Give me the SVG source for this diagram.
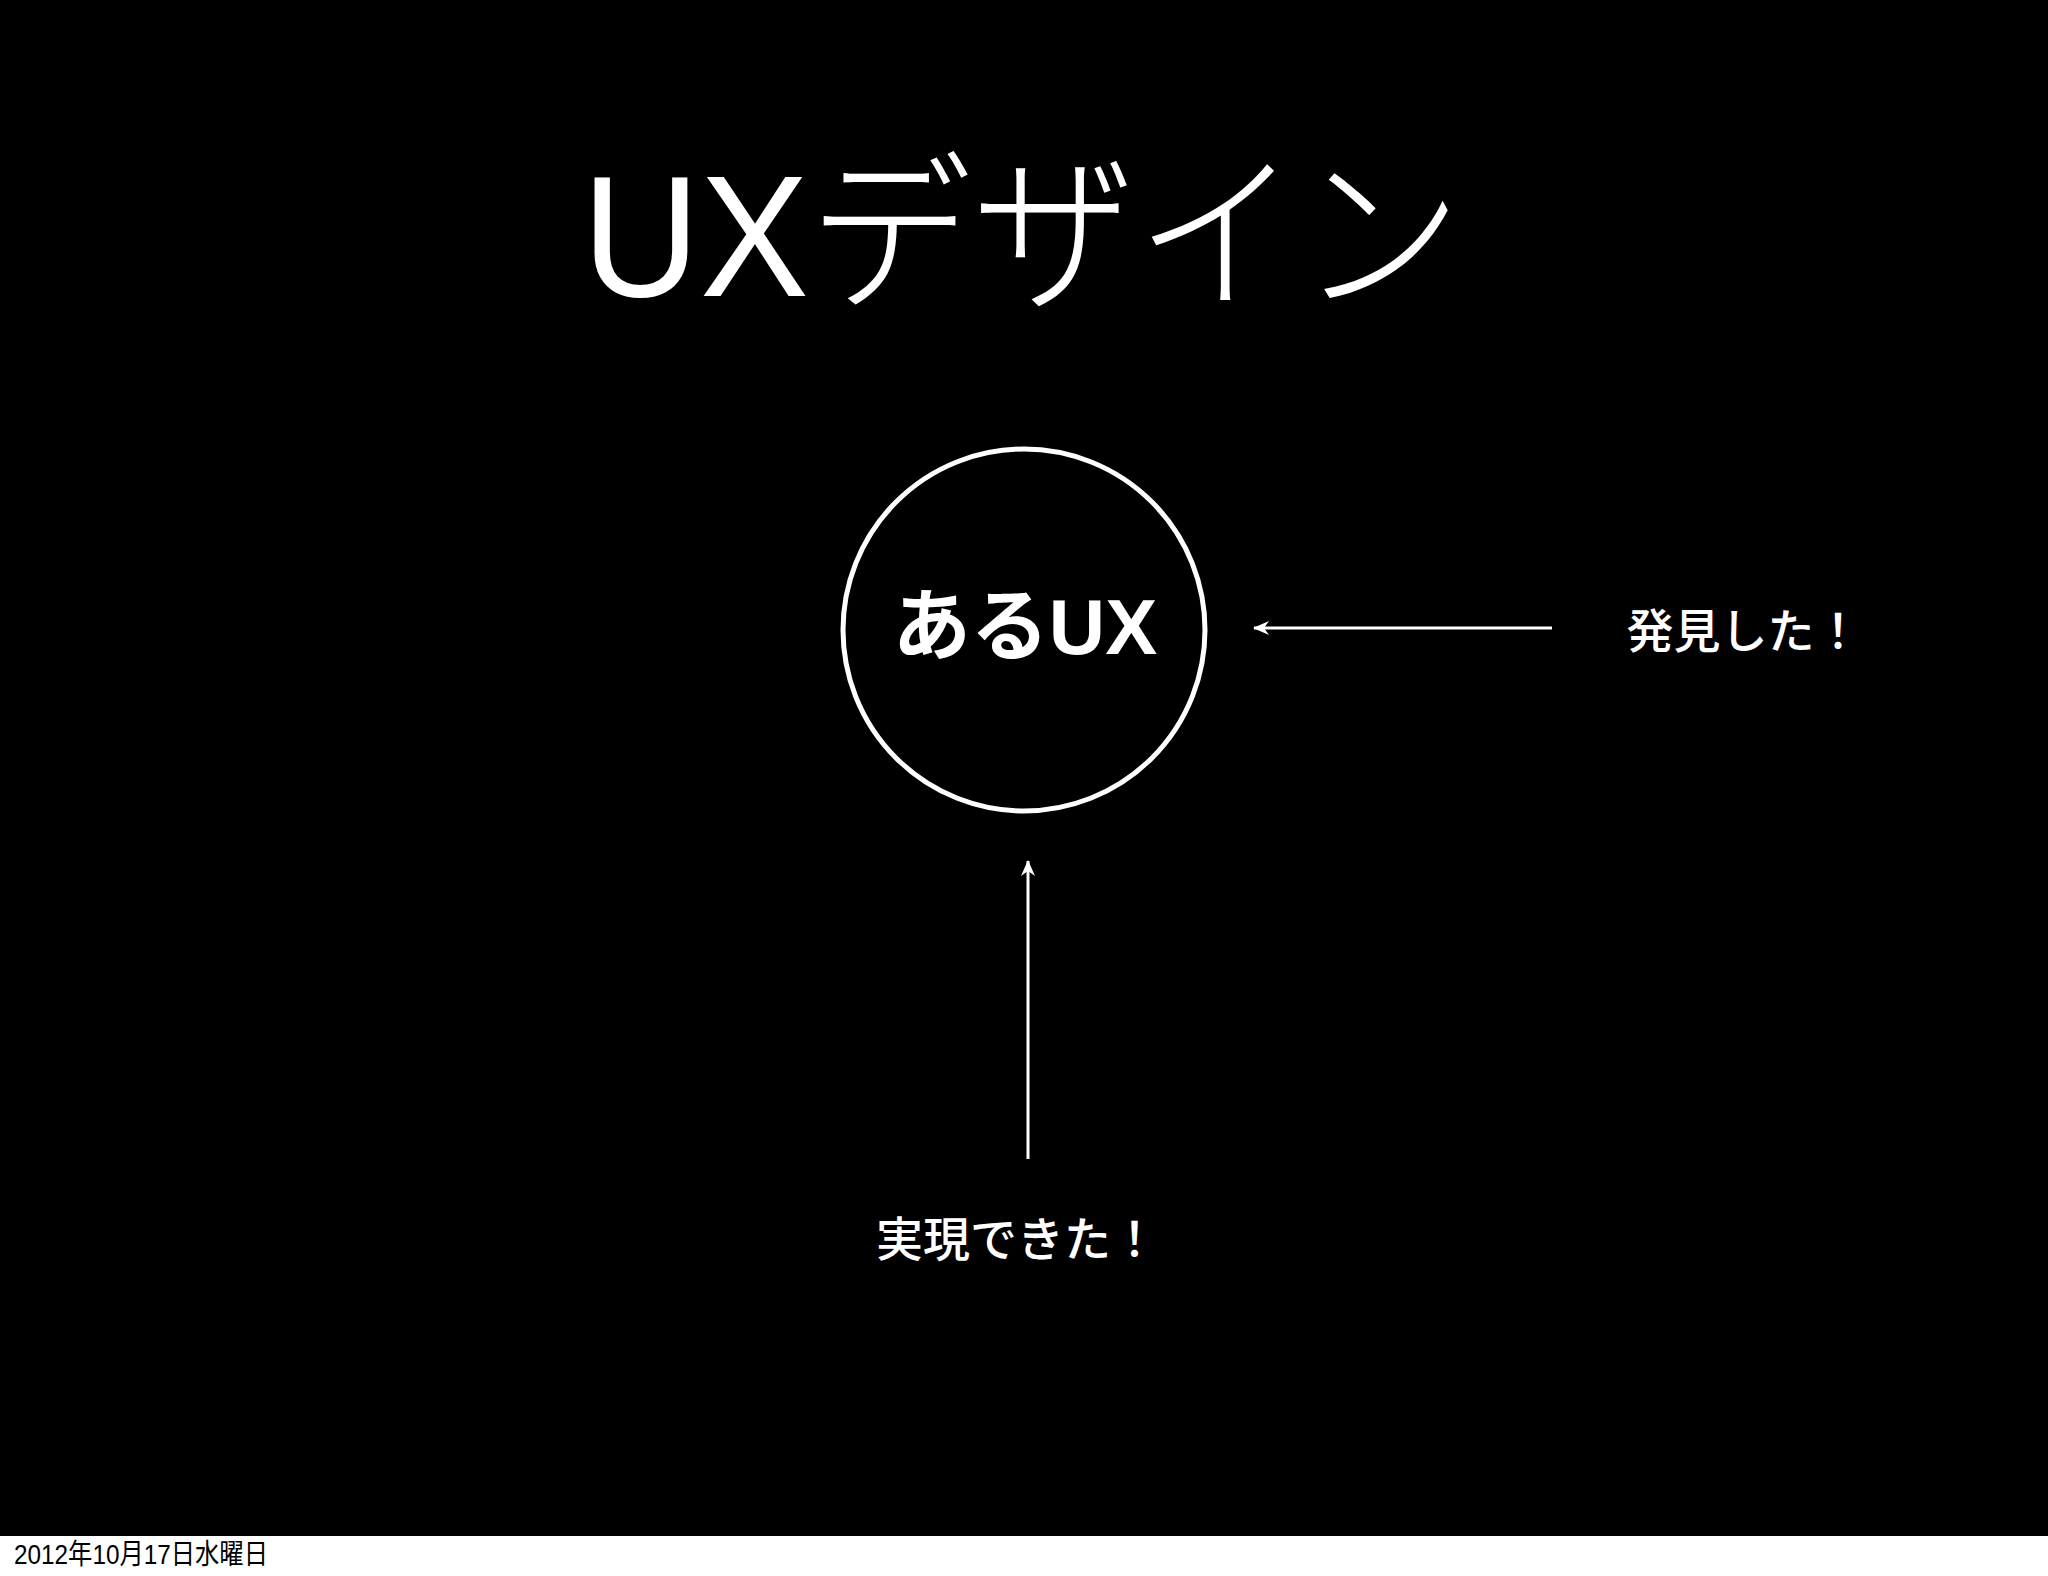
<svg xmlns="http://www.w3.org/2000/svg" width="2048" height="1576" viewBox="0 0 2048 1576">
<style>
.t{font-family:"Liberation Sans","Noto Sans CJK JP",sans-serif;fill:#fff}
.title{font-size:172px;font-weight:300}
.lbl{font-family:"Noto Sans CJK JP",sans-serif;font-size:47px;font-weight:500}
.node{font-size:78px;font-weight:bold}
.conn{stroke:#fff;stroke-width:3;fill:none}
.foot{font-family:"Liberation Sans","Noto Sans CJK JP",sans-serif;font-size:28px;fill:#000}
</style>
<defs>
<marker id="ah" viewBox="0 0 16 14" refX="15" refY="7" markerWidth="16" markerHeight="14" markerUnits="userSpaceOnUse" orient="auto">
<path d="M16,7 L0,0 L5,7 L0,14 Z" fill="#fff"/>
</marker>
</defs>
<rect x="0" y="0" width="2048" height="1576" fill="#000"/>
<text class="t title" x="1022" y="296" text-anchor="middle" textLength="880" lengthAdjust="spacingAndGlyphs">UXデザイン</text>
<g id="node-aru-ux">
<circle cx="1024" cy="630" r="181" fill="none" stroke="#fff" stroke-width="5"/>
<text class="t node" x="1025" y="654" text-anchor="middle">あるUX</text>
</g>
<g id="node-hakken">
<text class="t lbl" x="1744" y="648" text-anchor="middle">発見した！</text>
</g>
<g id="node-jitsugen">
<text class="t lbl" x="1017" y="1256" text-anchor="middle">実現できた！</text>
</g>
<g id="connectors">
<line class="conn" x1="1552" y1="628" x2="1254" y2="628" marker-end="url(#ah)"/>
<line class="conn" x1="1028" y1="1159" x2="1028" y2="861" marker-end="url(#ah)"/>
</g>
<rect x="0" y="1536" width="2048" height="40" fill="#fff"/>
<text class="foot" x="14" y="1564" textLength="254" lengthAdjust="spacingAndGlyphs">2012年10月17日水曜日</text>
</svg>
